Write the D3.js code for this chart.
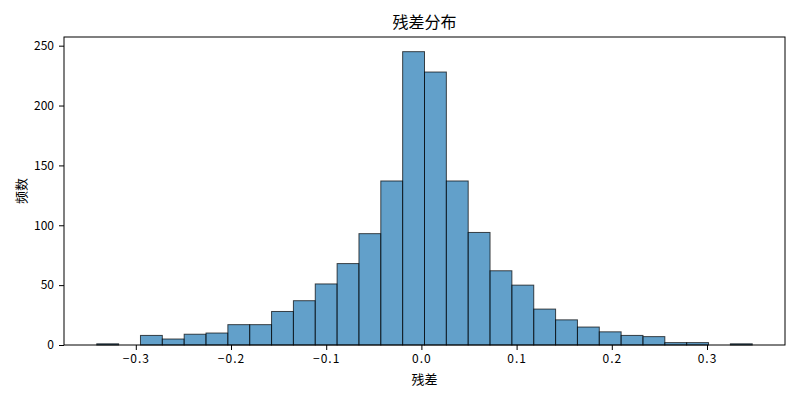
<!DOCTYPE html>
<html>
  <head>
    <meta charset="utf-8">
    <script src="https://d3js.org/d3.v7.min.js"></script>
    <style>
      body { margin: 0; background: #fff; }
      text { font-family: "Noto Sans CJK SC", sans-serif; fill: #000; }
    </style>
  </head>
  <body>
    <script>

      // bin edges of the histogram (31 edges -> 30 bins)
      var binEdges = [-0.3410, -0.31805, -0.2951, -0.27215, -0.2492, -0.22625, -0.2033,
        -0.18035, -0.1574, -0.13445, -0.1115, -0.08855, -0.0656, -0.04265, -0.0197,
        0.00325, 0.0262, 0.04915, 0.0721, 0.09505, 0.118, 0.14095, 0.1639, 0.18685,
        0.2098, 0.23275, 0.2557, 0.27865, 0.3016, 0.32455, 0.3475]

      // counts per bin
      var counts = [1, 0, 8, 5, 9, 10, 17, 17, 28, 37, 51, 68, 93, 137, 245,
        228, 137, 94, 62, 50, 30, 21, 15, 11, 8, 7, 2, 2, 0, 1]

      var xTicks = [-0.3, -0.2, -0.1, 0.0, 0.1, 0.2, 0.3]
      var yTicks = [0, 50, 100, 150, 200, 250]

      var title = "残差分布"
      var xTitle = "残差"
      var yTitle = "频数"

      // size of svg and plot area
      var w_svg = 800
      var h_svg = 400
      var left = 64
      var right = 785
      var top_ = 37
      var bottom = 345

      var svg = d3.select("body")
        .append("svg")
        .attr("width", w_svg)
        .attr("height", h_svg);

      // matplotlib style 5% margins on x, 5% on top of y
      var lo = binEdges[0]
      var hi = binEdges[binEdges.length - 1]
      var pad = (hi - lo) * 0.05

      var x_scale = d3.scaleLinear()
        .domain([lo - pad, hi + pad])
        .range([left, right]);

      var y_scale = d3.scaleLinear()
        .domain([0, d3.max(counts) * 1.05])
        .range([bottom, top_]);

      var bins = counts.map(function(c, i) {
        return {x0: binEdges[i], x1: binEdges[i + 1], n: c}
      })

      // bars
      svg.selectAll("rect.bar")
        .data(bins)
        .enter()
        .append("rect")
        .attr("class", "bar")
        .attr("x", function(d) { return x_scale(d.x0) })
        .attr("y", function(d) { return y_scale(d.n) })
        .attr("width", function(d) { return x_scale(d.x1) - x_scale(d.x0) })
        .attr("height", function(d) { return bottom - y_scale(d.n) })
        .attr("fill", "#1f77b4")
        .attr("fill-opacity", 0.7)
        .attr("stroke", "#000")
        .attr("stroke-opacity", 0.7)
        .attr("stroke-width", 1);

      // axes
      var x_axis = d3.axisBottom(x_scale)
        .tickValues(xTicks)
        .tickSize(5)
        .tickPadding(4)
        .tickFormat(function(d) { return d3.format(".1f")(d).replace("-", "\u2212") });

      var gx = svg.append("g")
        .attr("transform", "translate(0," + bottom + ")")
        .call(x_axis);

      var y_axis = d3.axisLeft(y_scale)
        .tickValues(yTicks)
        .tickSize(5)
        .tickPadding(5);

      var gy = svg.append("g")
        .attr("transform", "translate(" + left + ",0)")
        .call(y_axis);

      [gx, gy].forEach(function(g) {
        g.select(".domain").remove()
        g.selectAll(".tick line").attr("stroke", "#000").attr("stroke-width", 1)
        g.selectAll(".tick text")
          .attr("font-size", 12)
          .attr("font-family", "'Noto Sans CJK SC', sans-serif")
          .attr("fill", "#000")
      })

      // a little wider spacing on the x labels, like the reference
      gx.selectAll(".tick text").attr("letter-spacing", "1px")

      // frame
      svg.append("rect")
        .attr("x", left)
        .attr("y", top_)
        .attr("width", right - left)
        .attr("height", bottom - top_)
        .attr("fill", "none")
        .attr("stroke", "#000")
        .attr("stroke-width", 1);

      // titles
      svg.append("text")
        .attr("x", (left + right) / 2)
        .attr("y", 28)
        .attr("text-anchor", "middle")
        .attr("font-size", 16)
        .text(title)

      svg.append("text")
        .attr("x", (left + right) / 2)
        .attr("y", 384)
        .attr("text-anchor", "middle")
        .attr("font-size", 13)
        .text(xTitle)

      svg.append("text")
        .attr("transform", "translate(26," + (top_ + bottom) / 2 + ") rotate(-90)")
        .attr("text-anchor", "middle")
        .attr("font-size", 13)
        .text(yTitle)

    </script>
  </body>
</html>
